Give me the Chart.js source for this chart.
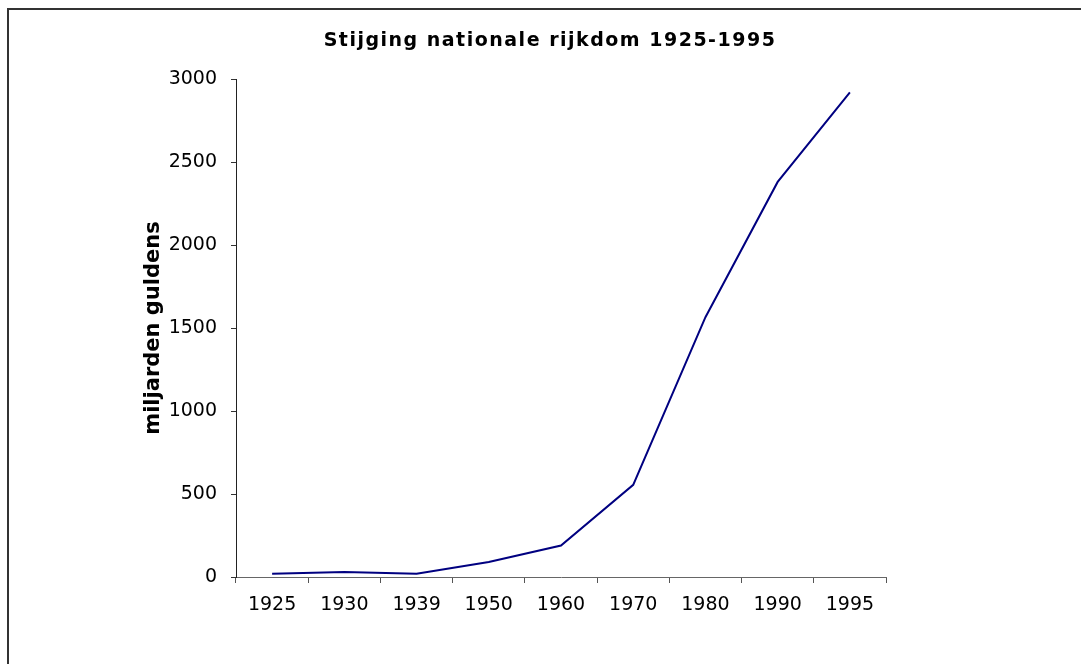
<!DOCTYPE html>
<html>
<head>
<meta charset="utf-8">
<title>Stijging nationale rijkdom 1925-1995</title>
<script src="https://cdn.jsdelivr.net/npm/chart.js@4"></script>
<style>
  html, body { margin: 0; padding: 0; background: #fff; overflow: hidden; }
  canvas { display: block; }
</style>
</head>
<body>
<canvas id="chart" width="1081" height="664"></canvas>
<script>
// data
const years = ['1925', '1930', '1939', '1950', '1960', '1970', '1980', '1990', '1995'];
const wealth = [20, 30, 20, 90, 190, 555, 1565, 2380, 2920]; // miljarden guldens
const yTicks = [0, 500, 1000, 1500, 2000, 2500, 3000];

const chartTitle = 'Stijging nationale rijkdom 1925-1995';
const yTitle = 'miljarden guldens';

const FONT = 'DejaVu Sans, Verdana, sans-serif';

// title + the frame (only top and left edge show in the original)
const decoPlugin = {
  id: 'deco',
  beforeDraw(chart) {
    const ctx = chart.ctx;
    ctx.save();
    ctx.strokeStyle = '#333';
    ctx.lineWidth = 2;
    ctx.beginPath();
    ctx.moveTo(8, 700);
    ctx.lineTo(8, 9);
    ctx.lineTo(1100, 9);
    ctx.stroke();
    ctx.restore();
  },
  afterDraw(chart) {
    const ctx = chart.ctx;
    ctx.save();
    ctx.font = 'bold 19px ' + FONT;
    ctx.letterSpacing = '1.5px';
    ctx.fillStyle = '#000';
    ctx.textAlign = 'center';
    ctx.textBaseline = 'alphabetic';
    ctx.fillText(chartTitle, 550, 46);
    ctx.restore();
  }
};

const config = {
  type: 'line',
  data: {
    labels: years,
    datasets: [{
      label: yTitle,
      data: wealth,
      borderColor: '#000080',
      backgroundColor: '#000080',
      borderWidth: 2,
      pointRadius: 0,
      tension: 0,
      fill: false
    }]
  },
  options: {
    responsive: false,
    animation: false,
    layout: {
      padding: { top: 79, right: 195, bottom: 0, left: 141 }
    },
    plugins: {
      legend: { display: false },
      title: { display: false },
      tooltip: { enabled: false }
    },
    scales: {
      x: {
        type: 'category',
        offset: true,
        grid: {
          offset: true,
          drawOnChartArea: false,
          drawTicks: true,
          tickLength: 6,
          tickColor: '#555'
        },
        border: { display: true, color: '#666', width: 1 },
        ticks: {
          color: '#000',
          padding: 11,
          maxRotation: 0,
          font: { family: FONT, size: 19 }
        },
        afterFit(scale) { scale.height = 87; }
      },
      y: {
        min: 0,
        max: 3000,
        afterBuildTicks(scale) {
          scale.ticks = yTicks.map(v => ({ value: v }));
        },
        grid: {
          drawOnChartArea: false,
          drawTicks: true,
          tickLength: 5,
          tickColor: '#333'
        },
        border: { display: true, color: '#222', width: 1 },
        ticks: {
          color: '#000',
          padding: 14,
          font: { family: FONT, size: 19 },
          callback: v => String(v)
        },
        title: {
          display: true,
          text: yTitle,
          color: '#000',
          padding: { top: 0, bottom: 0 },
          font: { family: FONT, size: 21, weight: 'bold' }
        },
        afterFit(scale) { scale.width = 95; }
      }
    }
  },
  plugins: [decoPlugin]
};

const myChart = new Chart(document.getElementById('chart'), config);
</script>
</body>
</html>
